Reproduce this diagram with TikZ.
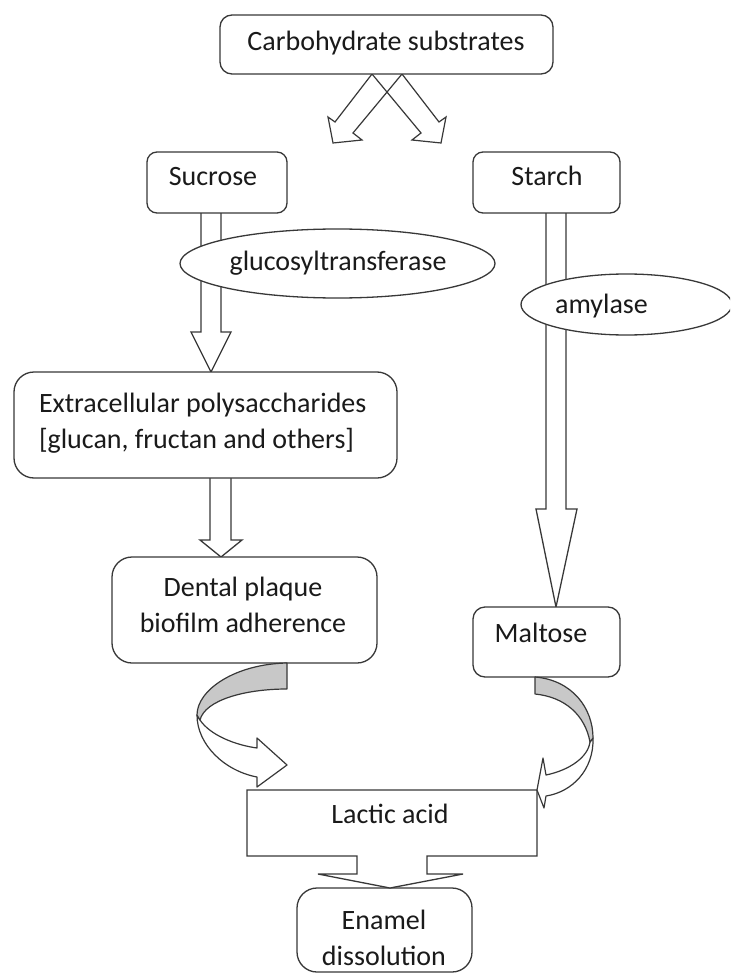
\documentclass[tikz,border=0pt]{standalone}
\usepackage{fontspec}
\setmainfont{Carlito}
\usetikzlibrary{shapes.geometric,calc}
\definecolor{ln}{HTML}{383838}
\definecolor{gr}{HTML}{C8C8C8}
\definecolor{tx}{HTML}{1A1A1A}
\begin{document}
\begin{tikzpicture}[x=1pt,y=-1pt,
 every node/.style={inner sep=0pt, outer sep=0pt},
 box/.style={draw=ln, line width=1.3pt, fill=white, rounded corners=#1},
 box/.default=12pt,
 lbl/.style={anchor=base, text=tx, font=\fontsize{28}{36}\selectfont},
 blk/.style={draw=ln, line width=1.3pt, fill=white, line join=miter},
 curvarrow/.style={draw=ln, line width=1.2pt, line join=round},
 oval/.style={ellipse, draw=ln, line width=1.3pt, fill=white},
]
\useasboundingbox (0,0) rectangle (730,976);
\clip (0,0) rectangle (730,976);
\fill[white] (0,0) rectangle (730,976);

% box placeholders (positions)
\path node[minimum width=333pt, minimum height=59pt] (carb) at (386.5,44.5) {}
      node[minimum width=140pt, minimum height=61pt] (suc) at (217,182.5) {}
      node[minimum width=147pt, minimum height=61pt] (sta) at (546.5,182.5) {}
      node[minimum width=383pt, minimum height=106pt] (ext) at (205.5,425) {}
      node[minimum width=265pt, minimum height=106pt] (den) at (244.5,610) {}
      node[minimum width=147pt, minimum height=70pt] (mal) at (546.5,642) {}
      node[minimum width=290pt, minimum height=66pt] (lac) at (392,823) {}
      node[minimum width=175pt, minimum height=84pt] (ena) at (384.5,930) {};

% diagonal arrows from carbohydrate substrates
\draw[draw=ln, line width=1.2pt, line join=miter]
  (372,0 |- carb.south) -- (335,122) -- (328,117) -- (333,143) -- (362,140) -- (353,133) -- (402,0 |- carb.south);
\draw[draw=ln, line width=1.2pt, line join=miter]
  (402,0 |- carb.south) -- (439,122) -- (446,117) -- (441,143) -- (412,140) -- (421,133) -- (372,0 |- carb.south);

% straight block arrows
\draw[blk] (201,0 |- suc.south) -- (201,332) -- (191,332) -- (211,0 |- ext.north) -- (231,332) -- (221,332) -- (221,0 |- suc.south);
\draw[blk] (546,0 |- sta.south) -- (546,509) -- (536,509) -- (556,0 |- mal.north) -- (577,509) -- (566,509) -- (566,0 |- sta.south);
\draw[blk] (210,0 |- ext.south) -- (210,540) -- (200,540) -- (221,0 |- den.north) -- (242,540) -- (231,540) -- (231,0 |- ext.south);

% boxes
\draw[box] (carb.north west) rectangle (carb.south east);
\draw[box=10pt] (suc.north west) rectangle (suc.south east);
\draw[box=10pt] (sta.north west) rectangle (sta.south east);
\draw[box=20pt] (ext.north west) rectangle (ext.south east);
\draw[box=20pt] (den.north west) rectangle (den.south east);
\draw[box=12pt] (mal.north west) rectangle (mal.south east);
\draw[box=20pt] (ena.north west) rectangle (ena.south east);
\draw[blk] (lac.north west) -- (lac.north east) -- (lac.south east) -- (427,0 |- lac.south) -- (427,874) -- (463,874)
  -- (390,0 |- ena.north) -- (318,874) -- (357,874) -- (357,0 |- lac.south) -- (lac.south west) -- cycle;

% enzyme ellipses
\node[oval, minimum width=315pt, minimum height=69pt] (gtf) at (337.5,263.5) {};
\node[oval, minimum width=211pt, minimum height=61pt] (amy) at (626.5,304.5) {};

% curved arrow: dental plaque -> lactic acid
\coordinate (l0) at (den.south -| 287,0);
\filldraw[curvarrow, fill=white] (197,715) .. controls (197,745) and (225,771) .. (257,777)
  -- (257,787) -- (287,765) -- (257,738) -- (257,748)
  .. controls (235,745) and (210,735) .. (200,720) -- cycle;
\filldraw[curvarrow, fill=gr] (l0) .. controls (235,664) and (197,690) .. (197,715)
  -- (200,720) .. controls (205,700) and (245,689) .. (287,689) -- cycle;

% curved arrow: maltose -> lactic acid
\coordinate (r0) at (mal.south -| 535,0);
\filldraw[curvarrow, fill=white] (593,738) .. controls (594,770) and (572,792) .. (546,796)
  -- (544,808) -- (lac.north east) -- (543,758) -- (546,775)
  .. controls (570,770) and (588,757) .. (590,742) -- cycle;
\filldraw[curvarrow, fill=gr] (r0) .. controls (572,680) and (593,708) .. (593,738)
  -- (590,742) .. controls (585,715) and (565,697) .. (535,694) -- cycle;

% labels
\node[lbl] (tcarb) at (386,51) {Carbohydrate substrates};
\node[lbl] (tsuc) at (213,186) {Sucrose};
\node[lbl] (tsta) at (547,186) {Starch};
\node[lbl] (tgtf) at (338,270) {glucosyltransferase};
\node[lbl] (tamy) at (601.5,313) {amylase};
\node[lbl, anchor=base west, align=left] (text) at (39,448) {Extracellular polysaccharides\\{[}glucan, fructan and others{]}};
\node[lbl, align=center] (tden) at (243,632) {Dental plaque\\biofilm adherence};
\node[lbl] (tmal) at (541,642) {Maltose};
\node[lbl] (tlac) at (390,823) {Lactic acid};
\node[lbl, align=center] (tena) at (384,965) {Enamel\\dissolution};
\end{tikzpicture}
\end{document}
